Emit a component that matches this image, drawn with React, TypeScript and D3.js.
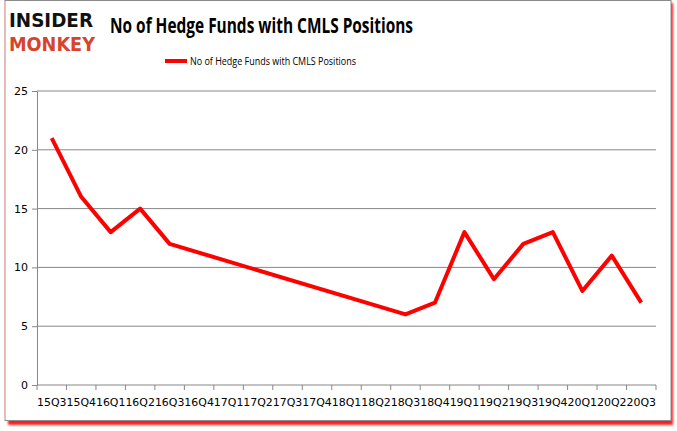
import { useEffect, useRef } from "react";
import * as d3 from "d3";

// quarters on the x axis
const quarters = [
    "15Q3", "15Q4", "16Q1", "16Q2", "16Q3", "16Q4", "17Q1", "17Q2", "17Q3", "17Q4",
    "18Q1", "18Q2", "18Q3", "18Q4", "19Q1", "19Q2", "19Q3", "19Q4", "20Q1", "20Q2", "20Q3",
];
// hedge fund counts, null where the source has no value
const funds: (number | null)[] = [
    21, 16, 13, 15, 12, null, null, null, null, null,
    null, null, 6, 7, 13, 9, 12, 13, 8, 11, 7,
];
const yTicks = [0, 5, 10, 15, 20, 25];
const seriesName = "No of Hedge Funds with CMLS Positions";

export default function App() {
    const svgRef = useRef<SVGSVGElement | null>(null);

    useEffect(() => {
        const width = 677;
        const height = 431;
        const svg = d3.select(svgRef.current!).attr("width", width).attr("height", height);
        svg.selectAll("*").remove();

        // soft red drop shadow behind the frame
        const defs = svg.append("defs");
        defs.append("filter").attr("id", "blur").append("feGaussianBlur").attr("stdDeviation", 1.2);
        svg.append("rect").attr("x", 8).attr("y", 3).attr("width", 665).attr("height", 422)
            .attr("fill", "#ff1a1a").attr("filter", "url(#blur)");
        svg.append("rect").attr("x", 5).attr("y", 0.5).attr("width", 666).attr("height", 420)
            .attr("fill", "#fff").attr("stroke", "#8a8a8a").attr("stroke-width", 1);
        svg.append("line").attr("x1", 5).attr("x2", 5).attr("y1", 1).attr("y2", 420)
            .attr("stroke", "#f4b8b8").attr("stroke-width", 1.5);

        // logo
        svg.append("text").attr("x", 9).attr("y", 27).text("INSIDER")
            .attr("font-family", "DejaVu Sans").attr("font-weight", "bold").attr("font-size", 19)
            .attr("textLength", 84).attr("lengthAdjust", "spacingAndGlyphs").attr("fill", "#111");
        svg.append("text").attr("x", 9).attr("y", 51).text("MONKEY")
            .attr("font-family", "DejaVu Sans").attr("font-weight", "bold").attr("font-size", 19)
            .attr("textLength", 86).attr("lengthAdjust", "spacingAndGlyphs").attr("fill", "#d8432c");

        // title
        svg.append("text").attr("x", 110).attr("y", 33).text(seriesName)
            .attr("font-family", "Open Sans").attr("font-weight", "bold").attr("font-size", 21)
            .attr("textLength", 303).attr("lengthAdjust", "spacingAndGlyphs").attr("fill", "#000");

        // legend
        svg.append("line").attr("x1", 165).attr("x2", 187).attr("y1", 61).attr("y2", 61)
            .attr("stroke", "#ff0000").attr("stroke-width", 4);
        svg.append("text").attr("x", 190).attr("y", 65).text(seriesName)
            .attr("font-family", "Open Sans").attr("font-size", 11.5)
            .attr("textLength", 166).attr("lengthAdjust", "spacingAndGlyphs").attr("fill", "#000");

        const m = { top: 91, left: 37, right: 656, bottom: 385 };
        const x = d3.scaleBand<string>().domain(quarters).range([m.left, m.right]);
        const y = d3.scaleLinear().domain([0, 25]).range([m.bottom, m.top]);

        // gridlines
        svg.append("g").selectAll("line").data(yTicks.filter((t) => t > 0)).enter().append("line")
            .attr("x1", m.left).attr("x2", m.right)
            .attr("y1", (d) => y(d)).attr("y2", (d) => y(d))
            .attr("stroke", "#878787").attr("stroke-width", 1);

        // y axis
        const yAxis = svg.append("g").attr("transform", `translate(${m.left},0)`)
            .call(d3.axisLeft(y).tickValues(yTicks).tickSize(5).tickSizeOuter(0).tickPadding(4));
        yAxis.select(".domain").attr("stroke", "#878787");
        yAxis.selectAll(".tick line").attr("stroke", "#878787");
        yAxis.selectAll("text").attr("font-family", "DejaVu Sans").attr("font-size", 11).attr("fill", "#000");

        // x axis with ticks at band edges
        const xAxis = svg.append("g").attr("transform", `translate(0,${m.bottom})`);
        xAxis.append("line").attr("x1", m.left).attr("x2", m.right).attr("stroke", "#878787");
        xAxis.selectAll("line.tk").data([...quarters, "end"]).enter().append("line")
            .attr("class", "tk")
            .attr("x1", (d, i) => m.left + i * x.bandwidth())
            .attr("x2", (d, i) => m.left + i * x.bandwidth())
            .attr("y1", 0).attr("y2", 5).attr("stroke", "#878787");
        xAxis.selectAll("text").data(quarters).enter().append("text")
            .attr("x", (d) => x(d)! + x.bandwidth() / 2).attr("y", 21)
            .attr("text-anchor", "middle").text((d) => d)
            .attr("font-family", "DejaVu Sans").attr("font-size", 11)
            .attr("textLength", 29.5).attr("lengthAdjust", "spacingAndGlyphs").attr("fill", "#000");

        // series line, skipping missing quarters
        const pts = quarters.map((q, i) => ({ q, v: funds[i] })).filter((d) => d.v != null);
        const line = d3.line<{ q: string; v: number | null }>()
            .x((d) => x(d.q)! + x.bandwidth() / 2)
            .y((d) => y(d.v as number));
        svg.append("path").attr("d", line(pts)!).attr("fill", "none")
            .attr("stroke", "#ff0000").attr("stroke-width", 4).attr("stroke-linejoin", "round");
    }, []);

    return <svg ref={svgRef} style={{ position: "absolute", left: 0, top: 0 }} />;
}
